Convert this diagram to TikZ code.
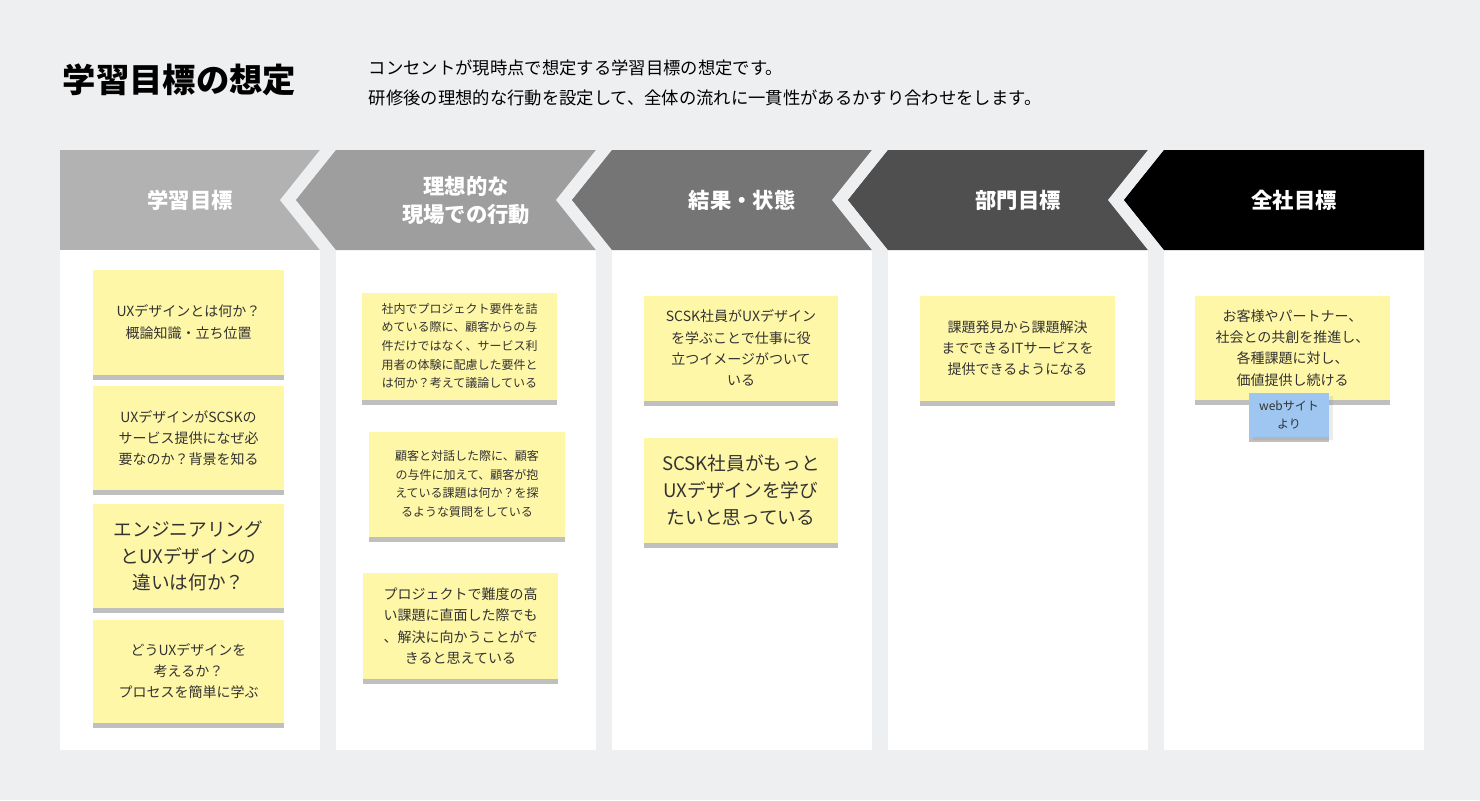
\documentclass[tikz,border=0pt]{standalone}
\usepackage{fontspec}
\setmainfont{Noto Sans CJK JP}
\usepackage{xcolor}
\usetikzlibrary{positioning,shadows}

\definecolor{bgcol}{HTML}{EEEFF1}
\definecolor{stickyyel}{HTML}{FFF7A8}
\definecolor{stickyblue}{HTML}{9EC6F0}

\begin{document}
\begin{tikzpicture}[x=0.75pt,y=-0.75pt,
        head/.style={font=\bfseries\fontsize{16}{21}\selectfont, text=white, align=center},
        sticky/.style={fill=stickyyel, draw=none, align=center, text=black!80, inner sep=0pt,
            font=\fontsize{10.5}{16}\selectfont,
            drop shadow={shadow xshift=0pt, shadow yshift=-4pt, opacity=0.25, fill=black}},
        smallnote/.style={sticky, font=\fontsize{9}{14}\selectfont},
        bignote/.style={sticky, font=\fontsize{14}{20}\selectfont}
    ]
        % Background
        \fill[bgcol] (0,0) rectangle (1480,800);

        % Title and lead text
        \node[anchor=west, font=\bfseries\fontsize{25}{30}\selectfont] (title) at (58,80) {学習目標の想定};
        \node[anchor=west, align=left, font=\fontsize{13}{22}\selectfont] (lead) at (364,83)
            {コンセントが現時点で想定する学習目標の想定です。\\研修後の理想的な行動を設定して、全体の流れに一貫性があるかすり合わせをします。};

        % Panels
        \foreach \x in {60,336,612,888,1164}
            \fill[white] (\x,250) rectangle ++(260,500);

        % Header bars
        \fill[gray!60] (60,150) rectangle (320,250);
        \foreach \x/\c in {336/black!38, 612/black!54, 888/black!69, 1164/black} {
            \fill[bgcol] (\x-16,150) -- (\x,150) -- (\x-40,200) -- (\x,250) -- (\x-16,250) -- (\x-56,200) -- cycle;
            \fill[\c] (\x,150) -- (\x+260,150) -- (\x+260,250) -- (\x,250) -- (\x-40,200) -- cycle;
        }
        \node[head] (h1) at (190,200) {学習目標};
        \node[head] (h2) at (466,200) {理想的な\\現場での行動};
        \node[head] (h3) at (742,200) {結果・状態};
        \node[head] (h4) at (1018,200) {部門目標};
        \node[head] (h5) at (1294,200) {全社目標};

        % Column 1
        \node[sticky, minimum width=143.25pt, minimum height=78.75pt] (a1) at (188.5,322) {UXデザインとは何か？\\概論知識・立ち位置};
        \node[sticky, minimum width=143.25pt, minimum height=78pt] (a2) at (188.5,438) {UXデザインがSCSKの\\サービス提供になぜ必\\要なのか？背景を知る};
        \node[bignote, minimum width=143.25pt, minimum height=78pt] (a3) at (188.5,556) {エンジニアリング\\とUXデザインの\\違いは何か？};
        \node[sticky, minimum width=143.25pt, minimum height=77.25pt] (a4) at (188.5,671) {どうUXデザインを\\考えるか？\\プロセスを簡単に学ぶ};

        % Column 2
        \node[smallnote, minimum width=146.25pt, minimum height=80.25pt] (b1) at (459.5,346) {社内でプロジェクト要件を詰\\めている際に、顧客からの与\\件だけではなく、サービス利\\用者の体験に配慮した要件と\\は何か？考えて議論している};
        \node[smallnote, minimum width=147pt, minimum height=78.75pt] (b2) at (467,484) {顧客と対話した際に、顧客\\の与件に加えて、顧客が抱\\えている課題は何か？を探\\るような質問をしている};
        \node[sticky, minimum width=146.25pt, minimum height=79.5pt] (b3) at (460.5,626) {プロジェクトで難度の高\\い課題に直面した際でも\\、解決に向かうことがで\\きると思えている};

        % Column 3
        \node[sticky, minimum width=145.5pt, minimum height=78.75pt] (c1) at (741,348) {SCSK社員がUXデザイン\\を学ぶことで仕事に役\\立つイメージがついて\\いる};
        \node[bignote, minimum width=145.5pt, minimum height=78.75pt] (c2) at (741,490) {SCSK社員がもっと\\UXデザインを学び\\たいと思っている};

        % Column 4
        \node[sticky, minimum width=146.25pt, minimum height=78.75pt] (d1) at (1017.5,348) {課題発見から課題解決\\までできるITサービスを\\提供できるようになる};

        % Column 5
        \node[sticky, minimum width=146.25pt, minimum height=78pt] (e1) at (1292.5,348) {お客様やパートナー、\\社会との共創を推進し、\\各種課題に対し、\\価値提供し続ける};
        \node[smallnote, fill=stickyblue, minimum width=60pt, minimum height=33pt, drop shadow={opacity=0.15, shadow yshift=-2pt}] (e2) at (1289,415) {webサイト\\より};
    \end{tikzpicture}
\end{document}
